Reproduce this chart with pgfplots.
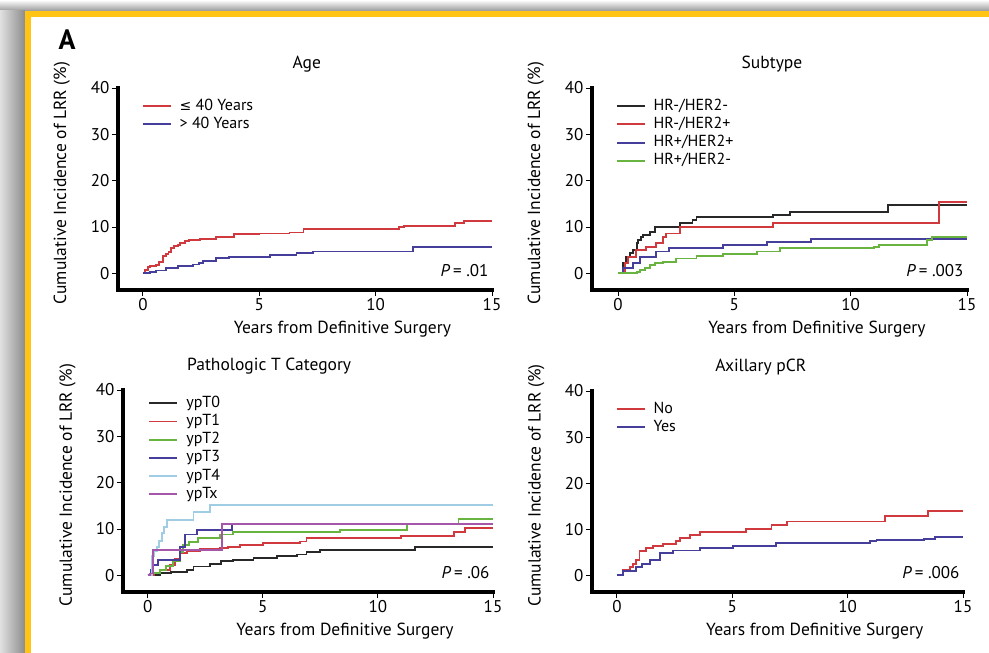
\documentclass[border=0pt]{standalone}
\usepackage{pgfplots}
\pgfplotsset{compat=1.18}
\usepackage{fontspec}
\setmainfont{PT Sans}
\newfontfamily\symfont{DejaVu Sans}
\definecolor{cred}{RGB}{208,58,62}
\definecolor{cblue}{RGB}{70,62,155}
\definecolor{cgreen}{RGB}{105,180,65}
\definecolor{cblack}{RGB}{40,40,40}
\definecolor{clblue}{RGB}{160,205,228}
\definecolor{cpurp}{RGB}{165,85,170}
\definecolor{cyel}{RGB}{255,196,20}
\pgfplotsset{
  km/.style={
    scale only axis, anchor=south west,
    axis lines=left,
    axis line style={line width=3.8pt,-,line cap=rect,black},
    xmax=15, ymin=-3.6, ymax=40,
    xtick={0,5,10,15}, ytick={0,10,20,30,40},
    tick align=outside, major tick length=6pt,
    tick style={black,line width=0.9pt},
    /pgf/number format/assume math mode=true,
    tick label style={font=\fontsize{17}{20}\selectfont},
    yticklabel style={xshift=1pt},
    xticklabel style={yshift=1pt},
    xlabel={Years from Definitive Surgery},
    ylabel={Cumulative Incidence of LRR (\%)},
    label style={font=\fontsize{17.5}{20}\selectfont},
    xlabel style={at={(axis description cs:0.6,0)},anchor=north,yshift=-28pt},
    ylabel style={at={(axis description cs:-0.15,0.53)},anchor=center},
    title style={font=\fontsize{17.5}{20}\selectfont,anchor=south,yshift=6pt},
    legend cell align=left,
    legend style={draw=none,fill=none,at={(0.055,0.966)},anchor=north west,
      font=\fontsize{16}{18}\selectfont,
      nodes={inner sep=1pt,text height=12pt,text depth=4.2pt},
      /tikz/every odd column/.append style={column sep=7pt}},
    legend image code/.code={\draw[#1,line width=1.9pt] (0pt,0pt) -- (28pt,0pt);},
    every axis plot/.append style={const plot,line width=1.9pt},
    clip=false,
  }
}
\begin{document}
\begin{tikzpicture}
\path[use as bounding box] (0,0) rectangle (989pt,653pt);
\fill[white] (0,0) rectangle (989pt,653pt);
\shade[top color=white,bottom color=black!40] (0,642pt) rectangle (989pt,653pt);
\shade[left color=black!12,right color=black!45] (0,0) rectangle (25pt,642pt);
\fill[cyel] (25pt,0) rectangle (31pt,642pt);
\fill[cyel] (25pt,636pt) rectangle (989pt,642pt);
\node[font=\bfseries\fontsize{28}{30}\selectfont] at (67pt,613pt) {A};

% Panel 1: Age
\begin{axis}[km, at={(118pt,363pt)}, width=374pt, height=202pt, xmin=-1.07,
  title={Age}, title style={at={(0.505,1)}}]
\addplot[cred] coordinates {(0,0)(0.1,0.7)(0.2,1.4)(0.3,1.5)(0.57,1.8)(0.7,2.5)(0.86,3.7)(1.0,4.2)(1.1,4.6)(1.22,5.4)(1.35,5.8)(1.5,6.2)(1.6,6.5)(1.8,7.0)(2.0,7.1)(2.44,7.5)(3.16,7.9)(3.9,8.4)(5.0,8.6)(6.3,8.8)(6.9,9.5)(8.3,9.6)(11.0,10.0)(11.2,10.2)(13.4,10.9)(13.8,11.3)(15,11.3)};
\addlegendentry{{\symfont\fontsize{14}{18}\selectfont ≤} 40 Years}
\addplot[cblue] coordinates {(0,0)(0.3,0.3)(0.57,0.6)(1.0,1.1)(1.5,1.6)(2.15,1.9)(2.4,2.3)(2.6,2.7)(3.16,3.4)(3.7,3.6)(5.45,4.0)(6.6,4.3)(7.3,4.7)(11.6,5.7)(15,5.7)};
\addlegendentry{> 40 Years}
\node[anchor=east,font=\fontsize{17}{20}\selectfont] at (axis cs:15,0.6) {\textit{P}\,= .01};
\end{axis}

% Panel 2: Subtype
\begin{axis}[km, at={(592pt,363pt)}, width=375pt, height=202pt, xmin=-1.12,
  title={Subtype}, title style={at={(0.48,1)}}]
\addplot[cblack] coordinates {(0,0)(0.2,2.2)(0.36,3.6)(0.5,4.3)(0.65,5.0)(0.8,6.5)(0.86,7.2)(1.0,7.8)(1.08,8.2)(1.36,9.0)(1.58,10.0)(2.65,10.9)(3.2,11.5)(3.37,12.2)(6.67,12.5)(7.4,13.3)(11.6,14.7)(15,14.7)};
\addlegendentry{HR-/HER2-}
\addplot[cred] coordinates {(0,0)(0.29,2.2)(0.43,3.6)(0.79,5.0)(1.22,5.7)(1.65,6.5)(1.94,7.9)(2.08,8.6)(2.65,9.9)(6.67,10.9)(13.8,15.3)(15,15.3)};
\addlegendentry{HR-/HER2+}
\addplot[cblue] coordinates {(0,0)(0.2,1.1)(0.65,2.2)(0.93,3.6)(1.65,4.7)(2.2,5.4)(4.5,6.1)(6.4,6.8)(8.3,7.5)(15,7.5)};
\addlegendentry{HR+/HER2+}
\addplot[cgreen] coordinates {(0,0)(0.65,0)(0.8,0.3)(0.93,0.7)(1.15,1.2)(1.36,1.8)(1.6,2.2)(1.94,2.5)(2.5,3.2)(3.37,3.7)(4.5,4.1)(5.96,4.7)(6.96,5.4)(11.0,5.7)(11.2,6.1)(13.28,7.2)(13.5,7.9)(15,7.9)};
\addlegendentry{HR+/HER2-}
\node[anchor=east,font=\fontsize{17}{20}\selectfont] at (axis cs:15,0.6) {\textit{P}\,= .003};
\end{axis}

% Panel 3: Pathologic T Category
\begin{axis}[km, at={(123pt,61pt)}, width=370pt, height=202pt, xmin=-1.07,
  title={Pathologic T Category}, title style={at={(0.395,1)}},
  legend style={at={(0.06,0.99)}}]
\addplot[cblack] coordinates {(0,0)(0.54,0.5)(1.0,0.8)(1.7,1.2)(1.99,1.9)(2.7,2.5)(3.2,3.0)(3.7,3.4)(4.6,3.7)(5.6,4.1)(6.5,4.5)(6.9,5.0)(7.5,5.5)(11.6,6.2)(15,6.2)};
\addlegendentry{ypT0}
\addplot[cred] coordinates {(0,0)(0.3,0.6)(0.54,1.2)(0.97,2.3)(1.2,3.5)(1.41,4.8)(1.7,5.2)(2.28,5.7)(3.14,5.9)(3.5,6.2)(4.0,6.6)(5.0,7.0)(6.6,7.3)(6.9,8.0)(11.0,8.5)(13.3,9.3)(13.8,10.2)(15,10.2)};
\addlegendentry{ypT1}
\addplot[cgreen] coordinates {(0,0)(0.2,0.5)(0.54,1.2)(0.8,2.0)(1.1,3.0)(1.4,5.0)(1.55,6.6)(1.8,7.2)(2.2,8.0)(3.14,8.8)(3.72,9.3)(8.36,9.85)(11.25,11.1)(13.5,12.2)(15,12.2)};
\addlegendentry{ypT2}
\addplot[cblue] coordinates {(0,0)(0.15,1.2)(0.25,2.3)(0.45,3.4)(1.41,6.2)(1.62,8.8)(2.13,9.8)(3.65,11.0)(15,11.0)};
\addlegendentry{ypT3}
\addplot[clblue] coordinates {(0,0)(0.17,4.1)(0.3,5.2)(0.39,6.2)(0.5,7.5)(0.61,9.1)(0.7,10.5)(0.83,12.0)(1.99,13.6)(2.71,15.2)(15,15.2)};
\addlegendentry{ypT4}
\addplot[cpurp] coordinates {(0,0)(0.1,0.4)(0.22,5.5)(3.22,11.1)(15,11.1)};
\addlegendentry{ypTx}
\node[anchor=east,font=\fontsize{17}{20}\selectfont] at (axis cs:15,0.6) {\textit{P}\,= .06};
\end{axis}

% Panel 4: Axillary pCR
\begin{axis}[km, at={(592pt,61pt)}, width=371pt, height=201pt, xmin=-1.08,
  title={Axillary pCR}, title style={at={(0.455,1)}}]
\addplot[cred] coordinates {(0,0)(0.26,1.2)(0.55,1.9)(0.7,2.5)(0.84,3.4)(0.98,5.2)(1.27,5.9)(1.56,6.4)(2.0,6.8)(2.58,7.4)(2.72,8.1)(3.16,8.8)(3.6,9.4)(5.6,10.1)(6.7,11.0)(7.36,11.7)(11.6,12.8)(13.5,14.0)(15,14.0)};
\addlegendentry{No}
\addplot[cblue] coordinates {(0,0)(0.26,0.9)(0.84,1.8)(1.1,2.4)(1.42,3.4)(1.85,4.8)(2.43,5.4)(3.6,5.9)(5.04,6.3)(6.34,6.4)(6.9,7.1)(10.97,7.5)(11.25,7.7)(13.3,7.9)(13.8,8.4)(15,8.4)};
\addlegendentry{Yes}
\node[anchor=east,font=\fontsize{17}{20}\selectfont] at (axis cs:15,0.6) {\textit{P}\,= .006};
\end{axis}
\end{tikzpicture}
\end{document}
